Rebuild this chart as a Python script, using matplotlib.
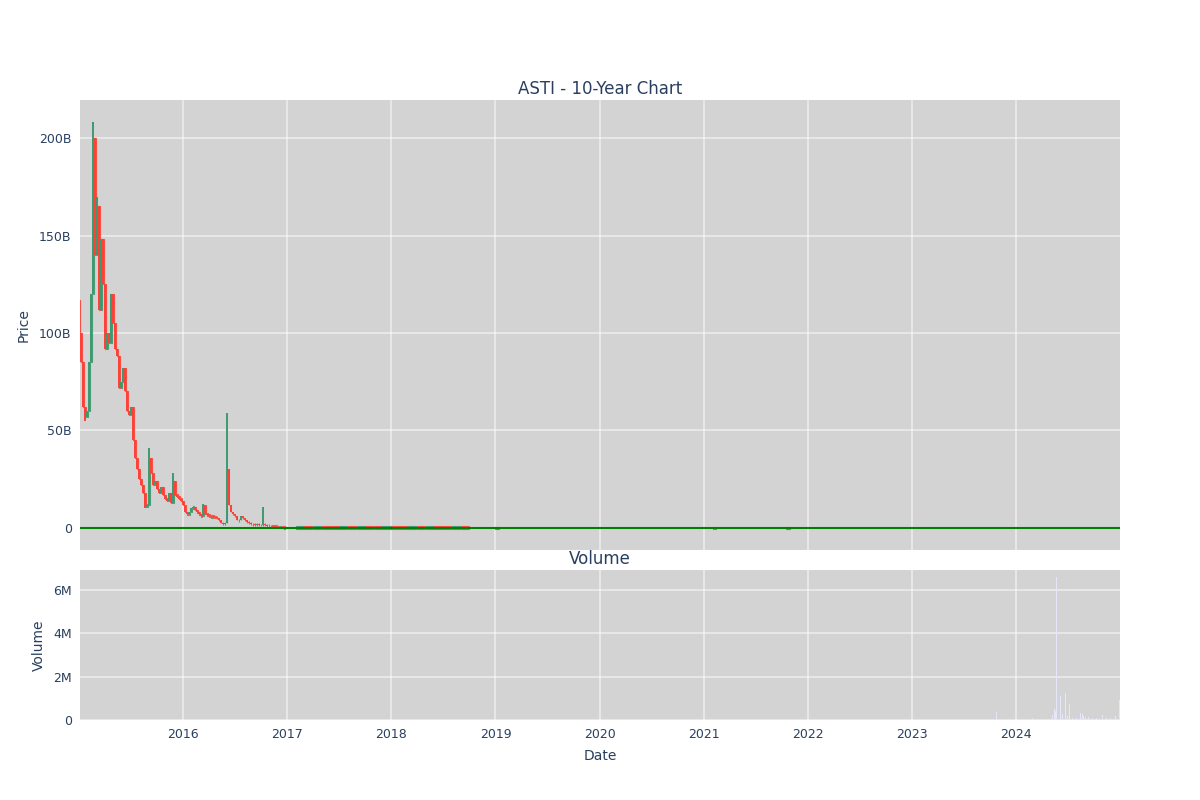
import numpy as np
import pandas as pd
import matplotlib
matplotlib.use("Agg")
import matplotlib.pyplot as plt
import matplotlib.dates as mdates
from matplotlib.ticker import FuncFormatter

# weekly closes (billions), 2015-01-02 .. end of 2016
weekly_close = [100, 85, 62, 57, 60, 85, 120, 200, 140, 165, 112, 148, 125, 92, 100,
                95, 120, 105, 92, 88, 72, 75, 82, 70, 60, 58, 62, 45, 36, 30,
                25, 22, 18, 11, 12, 36, 28, 22, 24, 20, 18, 21, 17, 15, 14,
                18, 13, 24, 17, 16, 15, 14, 12, 8, 7, 8, 10, 11, 9, 8,
                7, 6, 12, 7, 6.5, 6, 6, 5.8, 5.5, 5, 4, 2.5, 2, 2.5, 30,
                12, 8, 7, 6, 4, 4, 6, 5, 4, 3, 2.5, 2, 1.8, 1.5, 2,
                1.5, 1.5, 2, 1.5, 1.2, 1.0, 0.9, 0.8, 0.7, 0.6, 0.5, 0.5, 0.4, 0.3]
weekly_first_open = 117
# extra wick highs / lows by week index
wick_high = {0: 117, 7: 208, 8: 194, 9: 170, 35: 41, 47: 28, 62: 12.5, 74: 59, 92: 11}
wick_low = {3: 55, 33: 10}

# monthly closes 2017-01 .. 2018-09 (billions)
monthly_dates = pd.date_range("2017-01-15", "2018-09-15", freq="MS") + pd.Timedelta(days=14)
monthly_close = [0.35, 0.3, 0.32, 0.25, 0.2, 0.22, 0.18, 0.2, 0.15, 0.14, 0.16,
                 0.12, 0.1, 0.11, 0.09, 0.1, 0.08, 0.07, 0.08, 0.06, 0.05]

# sparse later candles
late_dates = ["2019-01-03", "2019-01-10", "2021-02-05", "2021-02-12", "2021-10-20", "2021-10-27"]
late_open = [0.04, 0.03, 0.02, 0.03, 0.02, 0.03]
late_close = [0.03, 0.04, 0.03, 0.02, 0.03, 0.02]

# volume (millions)
vol_dates = ["2023-10-24", "2024-01-10", "2024-02-28", "2024-03-27", "2024-04-23", "2024-05-08",
             "2024-05-15", "2024-05-20", "2024-05-23", "2024-05-28", "2024-06-05",
             "2024-06-12", "2024-06-24", "2024-07-01", "2024-07-08", "2024-07-18",
             "2024-08-01", "2024-08-15", "2024-08-22", "2024-08-26", "2024-09-02",
             "2024-09-12", "2024-09-26", "2024-10-10", "2024-10-31", "2024-11-14",
             "2024-11-28", "2024-12-16", "2024-12-30"]
vol_values = [0.37, 0.05, 0.08, 0.05, 0.1, 0.25, 0.5, 0.4, 6.6, 1.0, 1.1,
              0.3, 1.26, 0.2, 0.74, 0.1, 0.1, 0.33, 0.3, 0.2, 0.12,
              0.15, 0.08, 0.08, 0.23, 0.08, 0.1, 0.2, 0.93]

UP = "#3D9970"
DOWN = "#FF4136"
TXT = "#2a3f5f"
BG = "#d3d3d3"

# assemble candles
weekly_dates = pd.date_range("2015-01-02", periods=len(weekly_close), freq="W-FRI")
dates, opens, highs, lows, closes, widths = [], [], [], [], [], []
prev = weekly_first_open
for i, (d, c) in enumerate(zip(weekly_dates, weekly_close)):
    o = prev
    dates.append(d); opens.append(o); closes.append(c)
    highs.append(max(o, c, wick_high.get(i, 0)))
    lows.append(min(o, c, wick_low.get(i, 1e9)))
    widths.append(3)
    prev = c
for d, c in zip(monthly_dates, monthly_close):
    o = prev
    dates.append(d); opens.append(o); closes.append(c)
    highs.append(max(o, c)); lows.append(min(o, c)); widths.append(29)
    prev = c
for d, o, c in zip(late_dates, late_open, late_close):
    dates.append(pd.Timestamp(d)); opens.append(o); closes.append(c)
    highs.append(max(o, c)); lows.append(min(o, c)); widths.append(5)

fig = plt.figure(figsize=(12, 8), dpi=100)
ax = fig.add_axes([80/1200, 1-550/800, 1040/1200, 450/800])
axv = fig.add_axes([80/1200, 1-720/800, 1040/1200, 150/800], sharex=ax)

for a in (ax, axv):
    a.set_facecolor(BG)
    for s in a.spines.values():
        s.set_visible(False)
    a.grid(True, color="white", lw=1.1, alpha=0.6)
    a.set_axisbelow(True)
    a.tick_params(length=0, labelsize=9, labelcolor=TXT, pad=6)

for d, o, h, l, c, w in zip(dates, opens, highs, lows, closes, widths):
    col = UP if c >= o else DOWN
    x = mdates.date2num(d)
    ax.vlines(x, l, h, color=col, lw=1.4, zorder=3)
    hgt = abs(c - o)
    bot = min(o, c)
    if hgt < 1.4:
        bot -= (1.4 - hgt) / 2
        hgt = 1.4
    ax.bar(x, hgt, bottom=bot, width=w, color=col,
           edgecolor=col, lw=0.8, alpha=0.85, zorder=3)

ax.axhline(0, color="green", lw=1.5, zorder=4)

ax.set_ylim(-11.3, 219.5)
ax.set_yticks([0, 50, 100, 150, 200])
ax.yaxis.set_major_formatter(FuncFormatter(lambda v, p: "0" if v == 0 else f"{int(v)}B"))
ax.set_xlim(mdates.date2num(pd.Timestamp("2015-01-04")), mdates.date2num(pd.Timestamp("2024-12-31 12:00")))
ax.xaxis.set_major_locator(mdates.YearLocator())
ax.tick_params(axis="x", labelbottom=False)
ax.set_ylabel("Price", fontsize=10, color=TXT)
ax.yaxis.set_label_coords(-0.047, 0.5)

axv.bar(mdates.date2num(pd.to_datetime(vol_dates)), vol_values, width=2.5, color="#e6e6fa", lw=0)
axv.set_ylim(0, 6.93)
axv.set_yticks([0, 2, 4, 6])
axv.yaxis.set_major_formatter(FuncFormatter(lambda v, p: "0" if v == 0 else f"{int(v)}M"))
axv.xaxis.set_major_formatter(mdates.DateFormatter("%Y"))
axv.set_ylabel("Volume", fontsize=10, color=TXT)
axv.yaxis.set_label_coords(-0.033, 0.5)
axv.set_xlabel("Date", fontsize=10, color=TXT)
axv.xaxis.set_label_coords(0.5, -0.19)

fig.text(0.5, 1-89/800, "ASTI - 10-Year Chart", ha="center", va="center", fontsize=12, color=TXT)
fig.text(0.5, 1-559/800, "Volume", ha="center", va="center", fontsize=12, color=TXT)

fig.savefig("out.png", dpi=100)
